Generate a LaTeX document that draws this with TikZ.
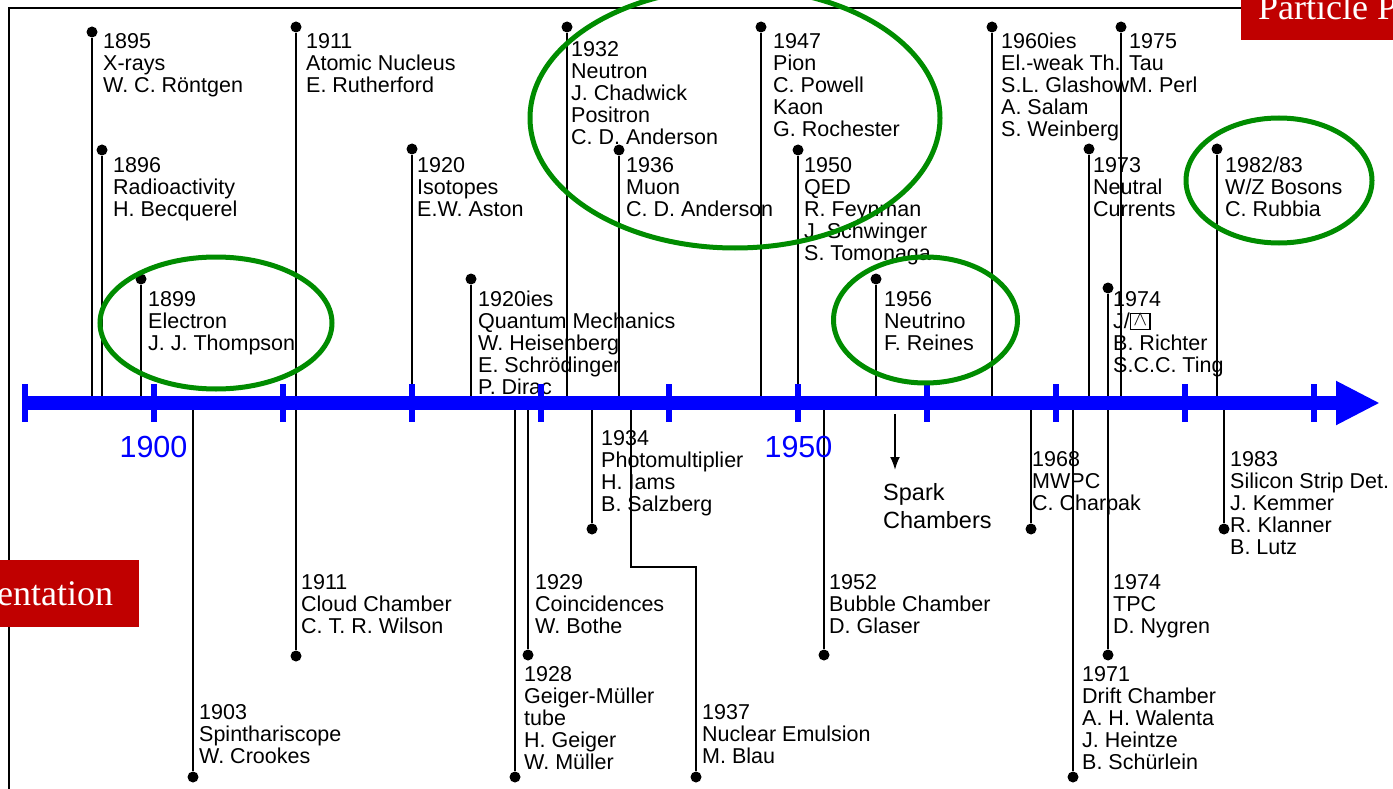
\documentclass[tikz,border=0pt]{standalone}
\usepackage{fontspec}
\setmainfont{Liberation Sans}
\newfontfamily\slidefont{Liberation Serif}
\usepackage{tikz}
\usetikzlibrary{arrows.meta}

\definecolor{ringgreen}{RGB}{0,140,0}
\definecolor{slidered}{RGB}{192,0,0}

% text nodes sit on the baseline of their last line
\tikzset{
  stem/.style={black,line width=2.8pt},
  dot/.style={circle,fill=black,inner sep=0pt,minimum size=11pt},
  event/.style={anchor=base west,inner sep=0pt,align=left,
    font=\fontsize{21.5}{22}\selectfont},
  ring/.style={ringgreen,line width=5pt},
  tickmark/.style={blue,line width=5.5pt},
  decade/.style={blue,anchor=base,inner sep=0pt,font=\fontsize{30.5}{32}\selectfont},
  banner/.style={fill=slidered,draw=none},
  bannertext/.style={white,anchor=base west,inner sep=0pt,
    font=\slidefont\fontsize{36}{40}\selectfont},
}

\begin{document}
\begin{tikzpicture}[x=1pt,y=-1pt]
\useasboundingbox (0,0) rectangle (1393,789);
\clip (0,0) rectangle (1393,789);

    % slide frame
    \draw[line width=2pt] (9,800) -- (9,8) -- (1400,8);

    % discoveries above the axis
    \coordinate (a1895) at (92,403);
    \node[dot] (d1895) at (92,32) {};
    \draw[stem] (a1895) -- (d1895);
    \node[event] (t1895) at (103,93) {1895\\X-rays\\W. C. Röntgen};

    \coordinate (a1896) at (102,403);
    \node[dot] (d1896) at (102,150) {};
    \draw[stem] (a1896) -- (d1896);
    \node[event] (t1896) at (113,216.5) {1896\\Radioactivity\\H. Becquerel};

    \coordinate (a1899) at (141,403);
    \node[dot] (d1899) at (141,279) {};
    \draw[stem] (a1899) -- (d1899);
    \node[event] (t1899) at (148,350.5) {1899\\Electron\\J. J. Thompson};

    \coordinate (a1911) at (296,403);
    \node[dot] (d1911) at (296,27) {};
    \draw[stem] (a1911) -- (d1911);
    \node[event] (t1911) at (306,93) {1911\\Atomic Nucleus\\E. Rutherford};

    \coordinate (a1920) at (412,403);
    \node[dot] (d1920) at (412,149) {};
    \draw[stem] (a1920) -- (d1920);
    \node[event] (t1920) at (417,216.5) {1920\\Isotopes\\E.W. Aston};

    \coordinate (aqm) at (471,403);
    \node[dot] (dqm) at (471,279) {};
    \draw[stem] (aqm) -- (dqm);
    \node[event] (tqm) at (478,394.5) {1920ies\\Quantum Mechanics\\W. Heisenberg\\E. Schrödinger\\P. Dirac};

    \coordinate (a1932) at (567,403);
    \node[dot] (d1932) at (567,27) {};
    \draw[stem] (a1932) -- (d1932);
    \node[event] (t1932) at (571,145) {1932\\Neutron\\J. Chadwick\\Positron\\C. D. Anderson};

    \coordinate (a1936) at (619,403);
    \node[dot] (d1936) at (619,150) {};
    \draw[stem] (a1936) -- (d1936);
    \node[event] (t1936) at (626,216.5) {1936\\Muon\\C. D. Anderson};

    \coordinate (a1947) at (761,403);
    \node[dot] (d1947) at (761,27) {};
    \draw[stem] (a1947) -- (d1947);
    \node[event] (t1947) at (773,136.5) {1947\\Pion\\C. Powell\\Kaon\\G. Rochester};

    \coordinate (a1950) at (798,403);
    \node[dot] (d1950) at (798,150) {};
    \draw[stem] (a1950) -- (d1950);
    \node[event] (t1950) at (804,260.5) {1950\\QED\\R. Feynman\\J. Schwinger\\S. Tomonaga};

    \coordinate (a1956) at (876,403);
    \node[dot] (d1956) at (876,279) {};
    \draw[stem] (a1956) -- (d1956);
    \node[event] (t1956) at (884,350.5) {1956\\Neutrino\\F. Reines};

    \coordinate (aew) at (992,403);
    \node[dot] (dew) at (992,27) {};
    \draw[stem] (aew) -- (dew);
    \node[event] (tew) at (1001,136.5) {1960ies\\El.-weak Th.\\S.L. Glashow\\A. Salam\\S. Weinberg};

    \coordinate (a1973) at (1089,403);
    \node[dot] (d1973) at (1089,149) {};
    \draw[stem] (a1973) -- (d1973);
    \node[event] (t1973) at (1093,216.5) {1973\\Neutral\\Currents};

    \coordinate (a1974) at (1108,403);
    \node[dot] (d1974) at (1108,288) {};
    \draw[stem] (a1974) -- (d1974);
    \node[event] (t1974) at (1113,372.5) {1974\\J/{\fboxsep=0pt\fboxrule=1.3pt\fbox{\makebox[18pt]{\rule{0pt}{14pt}\raisebox{3pt}{$\wedge$}}}}\\B. Richter\\S.C.C. Ting};

    \coordinate (a1975) at (1121,403);
    \node[dot] (d1975) at (1121,27) {};
    \draw[stem] (a1975) -- (d1975);
    \node[event] (t1975) at (1129,92.5) {1975\\Tau\\M. Perl};

    \coordinate (a1982) at (1217,403);
    \node[dot] (d1982) at (1217,149) {};
    \draw[stem] (a1982) -- (d1982);
    \node[event] (t1982) at (1225,216.5) {1982/83\\W/Z Bosons\\C. Rubbia};

    % detectors below the axis
    \coordinate (b1903) at (193,403);
    \node[dot] (e1903) at (193,777) {};
    \draw[stem] (b1903) -- (e1903);
    \node[event] (s1903) at (199,763) {1903\\Spinthariscope\\W. Crookes};

    \coordinate (b1911) at (296,403);
    \node[dot] (e1911) at (296,656) {};
    \draw[stem] (b1911) -- (e1911);
    \node[event] (s1911) at (301,633) {1911\\Cloud Chamber\\C. T. R. Wilson};

    \coordinate (b1928) at (515,403);
    \node[dot] (e1928) at (515,777) {};
    \draw[stem] (b1928) -- (e1928);
    \node[event] (s1928) at (524,769.5) {1928\\Geiger-Müller\\tube\\H. Geiger\\W. Müller};

    \coordinate (b1929) at (528,403);
    \node[dot] (e1929) at (528,655) {};
    \draw[stem] (b1929) -- (e1929);
    \node[event] (s1929) at (535,633.5) {1929\\Coincidences\\W. Bothe};

    \coordinate (b1934) at (592,403);
    \node[dot] (e1934) at (592,529) {};
    \draw[stem] (b1934) -- (e1934);
    \node[event] (s1934) at (601,511) {1934\\Photomultiplier\\H. Iams\\B. Salzberg};

    \coordinate (b1937) at (631,403);
    \coordinate (k1937) at (696,567);
    \node[dot] (e1937) at (696,777) {};
    \draw[stem] (b1937) |- (k1937) -- (e1937);
    \node[event] (s1937) at (702,763) {1937\\Nuclear Emulsion\\M. Blau};

    \coordinate (b1952) at (824,403);
    \node[dot] (e1952) at (824,655) {};
    \draw[stem] (b1952) -- (e1952);
    \node[event] (s1952) at (829,633) {1952\\Bubble Chamber\\D. Glaser};

    \coordinate (spk0) at (895,414);
    \coordinate (spk1) at (895,470);
    \draw[black,line width=2pt,-{Latex[length=13pt,width=10pt]}] (spk0) -- (spk1);
    \node[event,font=\fontsize{23.5}{28}\selectfont] (spark) at (883,528.5) {Spark\\Chambers};

    \coordinate (b1968) at (1031,403);
    \node[dot] (e1968) at (1031,529) {};
    \draw[stem] (b1968) -- (e1968);
    \node[event] (s1968) at (1032,510) {1968\\MWPC\\C. Charpak};

    \coordinate (b1971) at (1073,403);
    \node[dot] (e1971) at (1073,777) {};
    \draw[stem] (b1971) -- (e1971);
    \node[event] (s1971) at (1082,769.5) {1971\\Drift Chamber\\A. H. Walenta\\J. Heintze\\B. Schürlein};

    \coordinate (b1974) at (1108,403);
    \node[dot] (e1974) at (1108,655) {};
    \draw[stem] (b1974) -- (e1974);
    \node[event] (s1974) at (1113,633) {1974\\TPC\\D. Nygren};

    \coordinate (b1983) at (1224,403);
    \node[dot] (e1983) at (1224,529) {};
    \draw[stem] (b1983) -- (e1983);
    \node[event] (s1983) at (1230,554) {1983\\Silicon Strip Det.\\J. Kemmer\\R. Klanner\\B. Lutz};

    % time axis
    \coordinate (ax0) at (22,403);
    \coordinate (ax1) at (1380,403);
    \draw[blue,line width=14pt,-{Triangle[length=44pt,width=41pt]}] (ax0) -- (ax1);
    \draw[tickmark] (25,384) -- (25,422) (154,384) -- (154,422)
        (283,384) -- (283,422) (412,384) -- (412,422)
        (541,384) -- (541,422) (669,384) -- (669,422)
        (798,384) -- (798,422) (927,384) -- (927,422)
        (1056,384) -- (1056,422) (1185,384) -- (1185,422)
        (1314,384) -- (1314,422);
    \node[decade] (y1900) at (153.5,457) {1900};
    \node[decade] (y1950) at (798.5,457) {1950};

    % highlighted discoveries
    \draw[ring] (216,323) ellipse (116 and 66);
    \draw[ring] (735,118) ellipse (205 and 130);
    \draw[ring] (925.5,320) ellipse (92 and 63);
    \draw[ring] (1279,180.5) ellipse (93 and 62.5);

    % slide banners
    \fill[banner] (1241,-5) rectangle (1400,40);
    \node[bannertext] (title) at (1258,20) {Particle P};
    \fill[banner] (-5,560) rectangle (139,627);
    \node[bannertext] (section) at (-3,605) {entation};

\end{tikzpicture}
\end{document}
